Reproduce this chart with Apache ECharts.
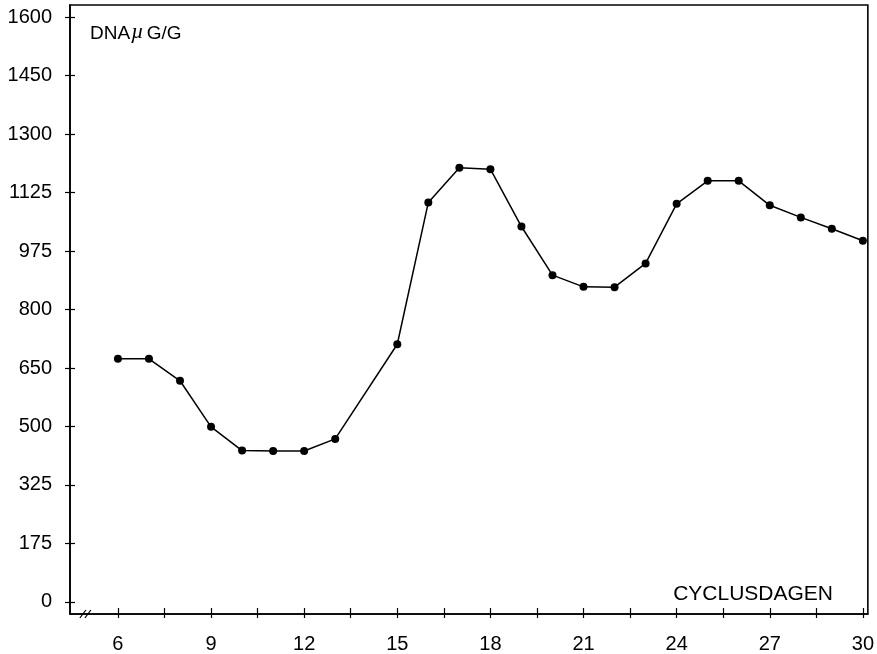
<!DOCTYPE html>
<html>
<head>
<meta charset="utf-8">
<script src="https://cdn.jsdelivr.net/npm/echarts@6/dist/echarts.min.js"></script>
<style>
html,body{margin:0;padding:0;background:#fff;}
#chart{width:877px;height:654px;}
</style>
</head>
<body>
<div id="chart"></div>
<script>
// Cycle days (x) and DNA µg/g values (y)
const days = [6, 7, 8, 9, 10, 11, 12, 13, 15, 16, 17, 18, 19, 20, 21, 22, 23, 24, 25, 26, 27, 28, 29, 30];
const dna = [665, 665, 605, 479, 414, 413, 413, 446, 705, 1093, 1188, 1184, 1027, 894, 862, 861, 926, 1089, 1152, 1152, 1085, 1052, 1021, 988];
// Y tick positions and their printed labels
const yTickValues = [0, 160, 320, 480, 640, 800, 960, 1120, 1280, 1440, 1600];
const yTickLabels = ['0', '175', '325', '500', '650', '800', '975', '1125', '1300', '1450', '1600'];
// X ticks and labels
const xTickValues = [6, 7.5, 9, 10.5, 12, 13.5, 15, 16.5, 18, 19.5, 21, 22.5, 24, 25.5, 27, 28.5, 30];
const xLabelValues = [6, 9, 12, 15, 18, 21, 24, 27, 30];
const xTitle = 'CYCLUSDAGEN';

const FONT = "'Liberation Sans', Arial, Helvetica, sans-serif";
const X_MIN = 4.456, X_MAX = 30.16, Y_MIN = -33, Y_MAX = 1633;

const chart = echarts.init(document.getElementById('chart'), null, {renderer: 'canvas'});

const points = days.map((d, i) => [d, dna[i]]);

function yFmt(v) {
  const i = yTickValues.indexOf(Math.round(v));
  return i >= 0 ? yTickLabels[i] : '';
}

const option = {
  animation: false,
  backgroundColor: '#fff',
  grid: {left: 70, right: 8, top: 5, bottom: 40, show: true, borderColor: '#000', borderWidth: 1.6, backgroundColor: 'transparent'},
  title: [
    {text: '{a|DNA}{b|µ}{a|G/G}', left: 85, top: 16,
      textStyle: {rich: {
        a: {fontFamily: FONT, fontSize: 19, color: '#000', fontWeight: 'normal', verticalAlign: 'bottom'},
        b: {fontFamily: "'Liberation Serif', serif", fontStyle: 'italic', fontSize: 22, color: '#000', fontWeight: 'normal', padding: [0, 3, 0, 1], verticalAlign: 'bottom'}
      }}},
    {text: xTitle, right: 39, top: 579, textStyle: {fontFamily: FONT, fontSize: 21, color: '#000', fontWeight: 'normal'}}
  ],
  xAxis: [
    {type: 'value', min: X_MIN, max: X_MAX, position: 'bottom',
      axisLine: {show: true, onZero: false, lineStyle: {color: '#000', width: 1.6}},
      axisTick: {show: true, inside: false, length: 4, lineStyle: {color: '#000', width: 1.2}, customValues: xTickValues},
      axisLabel: {show: true, margin: 20, color: '#000', fontFamily: FONT, fontSize: 20, customValues: xLabelValues},
      splitLine: {show: false}},
    {type: 'value', min: X_MIN, max: X_MAX, position: 'bottom',
      axisLine: {show: false, onZero: false},
      axisTick: {show: true, inside: true, length: 6, lineStyle: {color: '#000', width: 1.2}, customValues: xTickValues},
      axisLabel: {show: false}, splitLine: {show: false}}
  ],
  yAxis: [
    {type: 'value', min: Y_MIN, max: Y_MAX, position: 'left',
      axisLine: {show: true, onZero: false, lineStyle: {color: '#000', width: 1.6}},
      axisTick: {show: true, inside: false, length: 5, lineStyle: {color: '#000', width: 1.2}, customValues: yTickValues},
      axisLabel: {show: true, margin: 18, color: '#000', fontFamily: FONT, fontSize: 20, customValues: yTickValues, formatter: yFmt},
      splitLine: {show: false}},
    {type: 'value', min: Y_MIN, max: Y_MAX, position: 'left',
      axisLine: {show: false, onZero: false},
      axisTick: {show: true, inside: true, length: 5, lineStyle: {color: '#000', width: 1.2}, customValues: yTickValues},
      axisLabel: {show: false}, splitLine: {show: false}}
  ],
  series: [{
    type: 'line', xAxisIndex: 0, yAxisIndex: 0, data: points,
    symbol: 'circle', symbolSize: 8, showSymbol: true,
    lineStyle: {color: '#000', width: 1.5},
    itemStyle: {color: '#000', borderColor: '#000', borderWidth: 0},
    emphasis: {disabled: true}
  }]
};
chart.setOption(option);

// Axis break marks "//" near the origin
const bp = chart.convertToPixel({gridIndex: 0}, [5.0, Y_MIN]);
chart.setOption({
  graphic: [
    {type: 'line', shape: {x1: bp[0] - 7, y1: bp[1] + 4, x2: bp[0] - 1, y2: bp[1] - 4}, style: {stroke: '#000', lineWidth: 1.2}, z: 100},
    {type: 'line', shape: {x1: bp[0] - 2, y1: bp[1] + 4, x2: bp[0] + 4, y2: bp[1] - 4}, style: {stroke: '#000', lineWidth: 1.2}, z: 100}
  ]
});
</script>
</body>
</html>
